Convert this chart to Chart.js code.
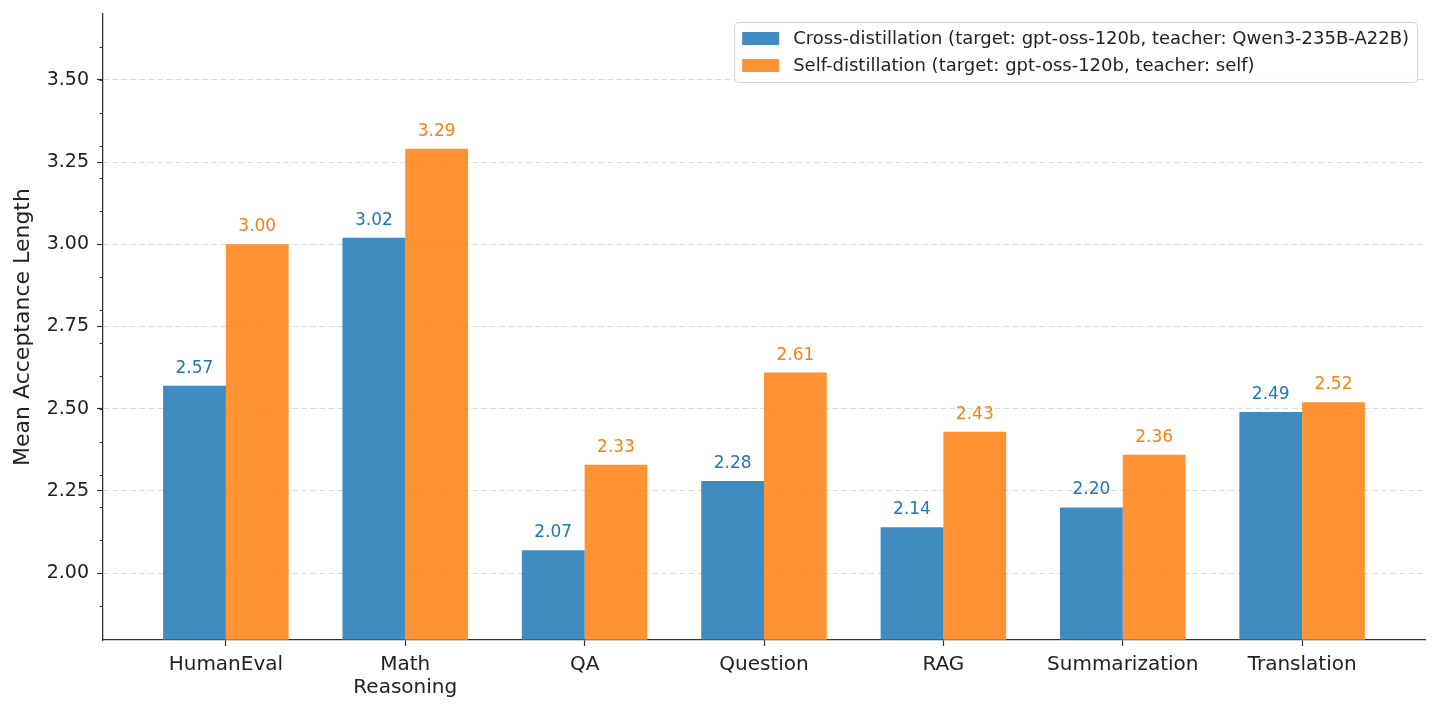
<!DOCTYPE html>
<html>
<head>
<meta charset="utf-8">
<script src="https://cdn.jsdelivr.net/npm/chart.js@4.4.1/dist/chart.umd.min.js"></script>
<style>
  body { margin: 0; background: #fff; }
  #wrap { width: 1440px; height: 710px; }
</style>
</head>
<body>
<div id="wrap"><canvas id="chart"></canvas></div>
<script>
// data
const categories = ['HumanEval', ['Math', 'Reasoning'], 'QA', 'Question', 'RAG', 'Summarization', 'Translation'];
const crossValues = [2.57, 3.02, 2.07, 2.28, 2.14, 2.20, 2.49];
const selfValues = [3.00, 3.29, 2.33, 2.61, 2.43, 2.36, 2.52];
const seriesNames = [
  'Cross-distillation (target: gpt-oss-120b, teacher: Qwen3-235B-A22B)',
  'Self-distillation (target: gpt-oss-120b, teacher: self)'
];
const yMajorTicks = [2.00, 2.25, 2.50, 2.75, 3.00, 3.25, 3.50];
const yMinorTicks = [1.9, 2.0, 2.1, 2.2, 2.3, 2.4, 2.5, 2.6, 2.7, 2.8, 2.9, 3.0, 3.1, 3.2, 3.3, 3.4, 3.5, 3.6];

const FONT = "'DejaVu Sans', sans-serif";
const barColors = ['rgba(31,119,180,0.85)', 'rgba(255,127,14,0.85)'];
const textColors = ['#1f77b4', '#ff7f0e'];

// value labels above bars
const valueLabels = {
  id: 'valueLabels',
  afterDatasetsDraw(chart) {
    const ctx = chart.ctx;
    ctx.save();
    ctx.font = '17px ' + FONT;
    ctx.textAlign = 'center';
    ctx.textBaseline = 'alphabetic';
    chart.data.datasets.forEach((ds, di) => {
      ctx.fillStyle = textColors[di];
      chart.getDatasetMeta(di).data.forEach((bar, i) => {
        ctx.fillText(ds.data[i].y.toFixed(2), bar.x, bar.y - 13);
      });
    });
    ctx.restore();
  }
};

// minor ticks on y + legend box
const extras = {
  id: 'extras',
  afterDraw(chart) {
    const ctx = chart.ctx;
    const y = chart.scales.y;
    const area = chart.chartArea;
    ctx.save();
    ctx.strokeStyle = '#333';
    ctx.lineWidth = 1;
    yMinorTicks.forEach(v => {
      const py = Math.round(y.getPixelForValue(v)) + 0.5;
      ctx.beginPath();
      ctx.moveTo(area.left - 3.5, py);
      ctx.lineTo(area.left, py);
      ctx.stroke();
    });

    // legend
    ctx.font = '18px ' + FONT;
    const texts = chart.data.datasets.map(d => d.label);
    const textW = Math.max(...texts.map(t => ctx.measureText(t).width));
    const w = 8 + 37 + 14 + textW + 8;
    const h = 60;
    const x0 = area.right - 8 - w;
    const y0 = 22;
    ctx.beginPath();
    ctx.roundRect(x0 + 0.5, y0 + 0.5, w, h, 4);
    ctx.fillStyle = 'rgba(255,255,255,0.85)';
    ctx.fill();
    ctx.strokeStyle = '#d4d4d4';
    ctx.stroke();
    ctx.textBaseline = 'middle';
    ctx.textAlign = 'left';
    chart.data.datasets.forEach((ds, i) => {
      const cy = y0 + 16.5 + i * 27;
      ctx.fillStyle = ds.backgroundColor;
      ctx.fillRect(x0 + 8, cy - 6.5, 37, 13);
      ctx.fillStyle = '#222';
      ctx.fillText(ds.label, x0 + 8 + 37 + 14, cy + 1);
    });
    ctx.restore();
  }
};

new Chart(document.getElementById('chart'), {
  type: 'bar',
  data: {
    datasets: [
      { label: seriesNames[0], data: crossValues.map((v, i) => ({ x: i, y: v })), backgroundColor: barColors[0] },
      { label: seriesNames[1], data: selfValues.map((v, i) => ({ x: i, y: v })), backgroundColor: barColors[1] }
    ]
  },
  options: {
    responsive: true,
    maintainAspectRatio: false,
    animation: false,
    categoryPercentage: 0.7,
    barPercentage: 1.0,
    layout: { padding: { top: 14, right: 15, left: 0, bottom: 0 } },
    plugins: {
      legend: { display: false },
      tooltip: { enabled: false }
    },
    scales: {
      x: {
        type: 'linear',
        min: -0.685,
        max: 6.685,
        offset: false,
        afterBuildTicks: s => { s.ticks = categories.map((c, i) => ({ value: i })); },
        afterFit: s => { s.height = 70; s.paddingLeft = 0; s.paddingRight = 0; },
        ticks: {
          autoSkip: false,
          maxRotation: 0,
          padding: 7,
          color: '#222',
          font: { family: FONT, size: 20, lineHeight: 1.15 },
          callback: v => categories[v]
        },
        grid: { drawOnChartArea: false, offset: false, tickLength: 6, tickColor: '#333', tickWidth: 1.2 },
        border: { color: '#333', width: 1.3 }
      },
      y: {
        min: 1.797,
        max: 3.70,
        afterBuildTicks: s => { s.ticks = yMajorTicks.map(v => ({ value: v })); },
        afterFit: s => { s.width = 103; s.paddingTop = 0; s.paddingBottom = 0; },
        ticks: {
          padding: 8,
          color: '#222',
          font: { family: FONT, size: 19 },
          callback: v => v.toFixed(2)
        },
        grid: { color: '#dcdcdc', lineWidth: 1, tickLength: 6, tickColor: '#333', tickWidth: 1.2 },
        border: { color: '#333', width: 1.3, dash: [6, 3] },
        title: {
          display: true,
          text: 'Mean Acceptance Length',
          color: '#222',
          font: { family: FONT, size: 22 },
          padding: { top: 10, bottom: 4 }
        }
      }
    }
  },
  plugins: [valueLabels, extras]
});
</script>
</body>
</html>
